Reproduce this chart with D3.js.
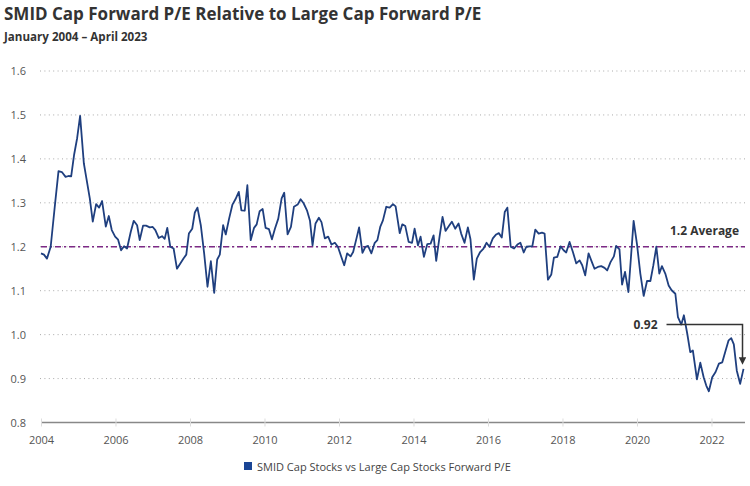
<!DOCTYPE html>
<html>
<head>
<meta charset="utf-8">
<script src="https://cdn.jsdelivr.net/npm/d3@7"></script>
<style>
  body { margin: 0; background: #fff; }
  svg { font-family: "Open Sans", sans-serif; }
</style>
</head>
<body>
<div id="chart"></div>
<script>
// decimal years
const dates = [
  2004.00, 2004.08, 2004.16, 2004.26, 2004.32, 2004.38, 2004.47, 2004.56, 2004.66, 2004.74,
  2004.81, 2004.89, 2004.97, 2005.05, 2005.15, 2005.22, 2005.31, 2005.39, 2005.48, 2005.56,
  2005.64, 2005.74, 2005.82, 2005.90, 2005.99, 2006.07, 2006.15, 2006.23, 2006.31, 2006.41,
  2006.49, 2006.58, 2006.65, 2006.74, 2006.82, 2006.92, 2007.00, 2007.07, 2007.16, 2007.25,
  2007.32, 2007.39, 2007.47, 2007.56, 2007.65, 2007.74, 2007.83, 2007.90, 2007.97, 2008.06,
  2008.13, 2008.20, 2008.29, 2008.38, 2008.47, 2008.56, 2008.65, 2008.73, 2008.80, 2008.89,
  2008.96, 2009.05, 2009.14, 2009.22, 2009.31, 2009.38, 2009.47, 2009.54, 2009.63, 2009.72,
  2009.79, 2009.87, 2009.95, 2010.03, 2010.12, 2010.20, 2010.28, 2010.37, 2010.46, 2010.53,
  2010.62, 2010.71, 2010.79, 2010.89, 2010.97, 2011.05, 2011.14, 2011.22, 2011.29, 2011.37,
  2011.46, 2011.53, 2011.62, 2011.71, 2011.80, 2011.89, 2011.97, 2012.07, 2012.14, 2012.22,
  2012.31, 2012.38, 2012.47, 2012.54, 2012.63, 2012.71, 2012.78, 2012.87, 2012.96, 2013.03,
  2013.11, 2013.18, 2013.27, 2013.36, 2013.45, 2013.52, 2013.63, 2013.70, 2013.78, 2013.87,
  2013.96, 2014.03, 2014.12, 2014.19, 2014.28, 2014.37, 2014.46, 2014.54, 2014.61, 2014.70,
  2014.78, 2014.86, 2014.95, 2015.03, 2015.12, 2015.21, 2015.28, 2015.37, 2015.46, 2015.53,
  2015.62, 2015.70, 2015.79, 2015.88, 2015.96, 2016.04, 2016.13, 2016.22, 2016.29, 2016.37,
  2016.45, 2016.52, 2016.61, 2016.70, 2016.79, 2016.87, 2016.96, 2017.03, 2017.12, 2017.19,
  2017.27, 2017.36, 2017.45, 2017.52, 2017.61, 2017.70, 2017.77, 2017.86, 2017.95, 2018.03,
  2018.10, 2018.19, 2018.28, 2018.37, 2018.46, 2018.53, 2018.61, 2018.70, 2018.79, 2018.86,
  2018.95, 2019.04, 2019.13, 2019.20, 2019.29, 2019.38, 2019.44, 2019.53, 2019.60, 2019.68,
  2019.77, 2019.91, 2020.00, 2020.09, 2020.18, 2020.27, 2020.36, 2020.44, 2020.52, 2020.60,
  2020.67, 2020.76, 2020.85, 2020.93, 2021.03, 2021.10, 2021.19, 2021.26, 2021.35, 2021.43,
  2021.50, 2021.61, 2021.70, 2021.79, 2021.86, 2021.93, 2022.02, 2022.11, 2022.20, 2022.29,
  2022.38, 2022.46, 2022.53, 2022.60, 2022.68, 2022.77, 2022.86
];

const ratio = [
  1.185, 1.182, 1.173, 1.200, 1.250, 1.300, 1.372, 1.370, 1.359, 1.361,
  1.360, 1.410, 1.447, 1.498, 1.390, 1.355, 1.310, 1.257, 1.297, 1.289,
  1.304, 1.246, 1.270, 1.238, 1.223, 1.216, 1.192, 1.201, 1.196, 1.234,
  1.259, 1.249, 1.215, 1.248, 1.248, 1.244, 1.245, 1.238, 1.220, 1.224,
  1.218, 1.243, 1.200, 1.196, 1.150, 1.162, 1.174, 1.182, 1.230, 1.241,
  1.278, 1.289, 1.249, 1.185, 1.109, 1.167, 1.095, 1.171, 1.182, 1.249,
  1.228, 1.264, 1.296, 1.308, 1.325, 1.283, 1.282, 1.340, 1.215, 1.243,
  1.251, 1.281, 1.286, 1.243, 1.240, 1.217, 1.241, 1.264, 1.310, 1.323,
  1.228, 1.245, 1.291, 1.296, 1.308, 1.299, 1.283, 1.260, 1.203, 1.253,
  1.266, 1.256, 1.219, 1.223, 1.205, 1.209, 1.200, 1.175, 1.158, 1.185,
  1.178, 1.188, 1.219, 1.244, 1.186, 1.200, 1.202, 1.185, 1.209, 1.215,
  1.246, 1.260, 1.291, 1.289, 1.297, 1.292, 1.231, 1.251, 1.247, 1.211,
  1.209, 1.241, 1.203, 1.223, 1.177, 1.206, 1.207, 1.226, 1.168, 1.223,
  1.268, 1.236, 1.247, 1.257, 1.241, 1.253, 1.230, 1.209, 1.244, 1.217,
  1.125, 1.173, 1.188, 1.196, 1.209, 1.200, 1.219, 1.228, 1.231, 1.221,
  1.279, 1.289, 1.200, 1.196, 1.205, 1.209, 1.187, 1.200, 1.201, 1.201,
  1.239, 1.230, 1.232, 1.230, 1.125, 1.137, 1.175, 1.177, 1.201, 1.192,
  1.187, 1.211, 1.188, 1.162, 1.169, 1.158, 1.135, 1.185, 1.165, 1.150,
  1.154, 1.156, 1.152, 1.146, 1.165, 1.178, 1.202, 1.194, 1.114, 1.143,
  1.097, 1.259, 1.206, 1.139, 1.088, 1.122, 1.122, 1.158, 1.200, 1.139,
  1.156, 1.139, 1.112, 1.101, 1.093, 1.040, 1.023, 1.044, 1.002, 0.960,
  0.964, 0.898, 0.936, 0.903, 0.884, 0.871, 0.903, 0.915, 0.934, 0.937,
  0.964, 0.987, 0.992, 0.978, 0.918, 0.888, 0.922
];

const yTicks = [0.8, 0.9, 1.0, 1.1, 1.2, 1.3, 1.4, 1.5, 1.6];
const xTicks = [2004, 2006, 2008, 2010, 2012, 2014, 2016, 2018, 2020, 2022];
const average = 1.2;
const latest = 0.92;
const annotLevel = 1.023;

const width = 750, height = 486;
const navy = "#1f3f7f";

const data = dates.map((d, i) => ({ date: d, value: ratio[i] }));

const x = d3.scaleLinear()
    .domain([2004, 2022.9])
    .range([41, 745]);

const y = d3.scaleLinear()
    .domain([0.8, 1.6])
    .range([422.5, 71]);

const svg = d3.select("#chart")
    .append("svg")
    .attr("width", width)
    .attr("height", height);

// titles
svg.append("text")
    .attr("x", 4)
    .attr("y", 20)
    .attr("fill", "#333")
    .style("font-size", "17px")
    .style("font-weight", "700")
    .text("SMID Cap Forward P/E Relative to Large Cap Forward P/E");

svg.append("text")
    .attr("x", 4)
    .attr("y", 41)
    .attr("fill", "#333")
    .style("font-size", "11.6px")
    .style("font-weight", "700")
    .text("January 2004 \u2013 April 2023");

// gridlines
svg.append("g")
    .selectAll("line")
    .data(yTicks.filter(d => d > 0.8))
    .enter()
    .append("line")
    .attr("x1", 40)
    .attr("x2", 745)
    .attr("y1", d => y(d))
    .attr("y2", d => y(d))
    .attr("stroke", "#aaa")
    .attr("stroke-width", 1)
    .attr("stroke-dasharray", "1,3.4");

// y labels
svg.append("g")
    .selectAll("text")
    .data(yTicks)
    .enter()
    .append("text")
    .attr("x", 26)
    .attr("y", d => y(d) + 4)
    .attr("text-anchor", "end")
    .attr("fill", "#555")
    .style("font-size", "11px")
    .text(d => d.toFixed(1));

// x axis
const xAxis = svg.append("g")
    .attr("transform", `translate(0,${y(0.8)})`)
    .call(d3.axisBottom(x).tickValues(xTicks).tickFormat(d3.format("d")).tickSize(4).tickPadding(10));

xAxis.select(".domain")
    .attr("d", `M${x(2004)},0H745`)
    .attr("stroke", "#888")
    .attr("stroke-width", 1.5);

xAxis.selectAll(".tick line")
    .attr("y1", -4)
    .attr("stroke", "#ddd");

xAxis.selectAll(".tick text")
    .attr("fill", "#555")
    .style("font-family", "Open Sans, sans-serif")
    .style("font-size", "11px");

// average line
svg.append("line")
    .attr("x1", x(2004))
    .attr("x2", 745)
    .attr("y1", y(average))
    .attr("y2", y(average))
    .attr("stroke", "#7d2a86")
    .attr("stroke-width", 1.6)
    .attr("stroke-dasharray", "6,3,2,3");

svg.append("text")
    .attr("x", 739)
    .attr("y", y(average) - 12)
    .attr("text-anchor", "end")
    .attr("fill", "#333")
    .style("font-size", "12px")
    .style("font-weight", "700")
    .text(average.toFixed(1) + " Average");

// series line
const line = d3.line()
    .x(d => x(d.date))
    .y(d => y(d.value));

svg.append("path")
    .datum(data)
    .attr("d", line)
    .attr("fill", "none")
    .attr("stroke", navy)
    .attr("stroke-width", 1.8)
    .attr("stroke-linejoin", "round");

// latest value annotation
const last = data[data.length - 1];
const ax = x(last.date) - 1;
const ay = y(annotLevel);

svg.append("defs")
    .append("marker")
    .attr("id", "arrow")
    .attr("viewBox", "0 0 10 10")
    .attr("refX", 5)
    .attr("refY", 5)
    .attr("markerWidth", 5)
    .attr("markerHeight", 5)
    .attr("orient", "auto")
    .append("path")
    .attr("d", "M0,0L10,5L0,10Z")
    .attr("fill", "#333");

svg.append("path")
    .attr("d", `M${ax - 76},${ay}H${ax}V${y(last.value) - 8}`)
    .attr("fill", "none")
    .attr("stroke", "#333")
    .attr("stroke-width", 1.5)
    .attr("marker-end", "url(#arrow)");

svg.append("text")
    .attr("x", ax - 85)
    .attr("y", ay + 4)
    .attr("text-anchor", "end")
    .attr("fill", "#333")
    .style("font-size", "12px")
    .style("font-weight", "700")
    .text(latest.toFixed(2));

// legend
const legend = svg.append("g")
    .attr("transform", "translate(244,462)");

legend.append("rect")
    .attr("width", 8)
    .attr("height", 8)
    .attr("fill", "#1a4595");

legend.append("text")
    .attr("x", 13)
    .attr("y", 9)
    .attr("fill", "#444")
    .style("font-size", "11px")
    .text("SMID Cap Stocks vs Large Cap Stocks Forward P/E");
</script>
</body>
</html>
